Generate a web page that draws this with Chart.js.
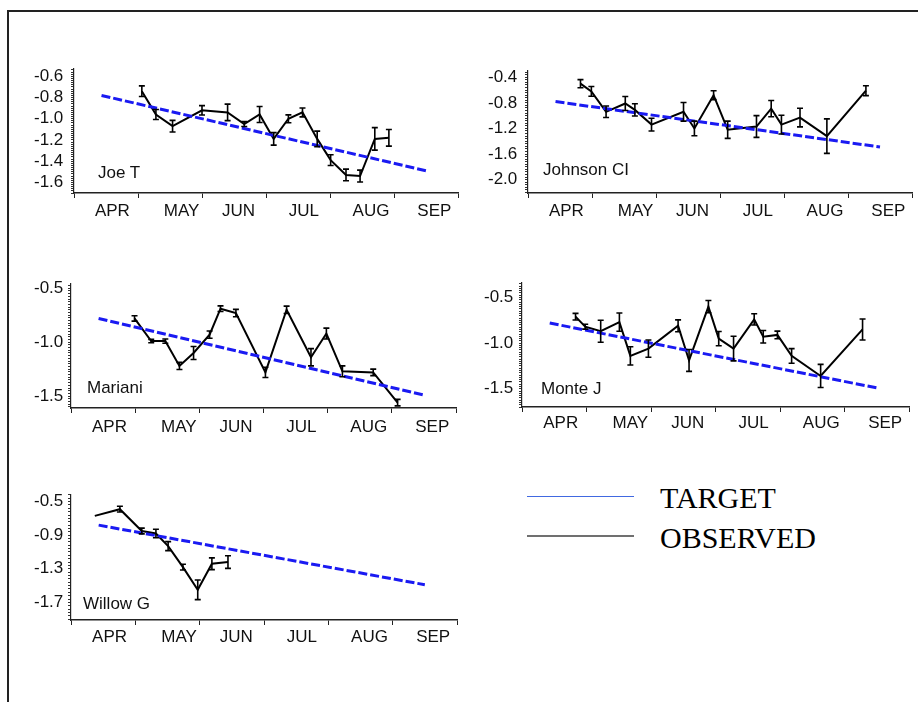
<!DOCTYPE html>
<html>
<head>
<meta charset="utf-8">
<script src="https://cdn.jsdelivr.net/npm/chart.js@4.4.0/dist/chart.umd.min.js"></script>
<style>
  body { margin: 0; background: #fff; width: 918px; height: 702px; overflow: hidden; position: relative; font-family: "Liberation Sans", Arial, sans-serif; }
  .frame { position: absolute; left: 7px; top: 10px; width: 960px; height: 760px; border-left: 2px solid #222; border-top: 2px solid #222; }
  .panel { position: absolute; }
  .name { position: absolute; font-size: 17px; line-height: 17px; color: #111; white-space: nowrap; }
  .legline { position: absolute; left: 527px; width: 107px; height: 0; }
  .legtext { position: absolute; left: 660px; font-family: "Liberation Serif", "Times New Roman", serif; font-size: 30px; line-height: 30px; color: #000; }
</style>
</head>
<body>
<div class="frame"></div>

<div class="legline" style="top:496px; border-top:1px solid #4169e1;"></div>
<div class="legtext" style="top:483px;">TARGET</div>
<div class="legline" style="top:535px; border-top:2px solid #707070;"></div>
<div class="legtext" style="top:523px;">OBSERVED</div>

<script>
// x values are months after 1 April (0 = APR 1, 6 = OCT 1)
const MONTHS = ["APR", "MAY", "JUN", "JUL", "AUG", "SEP"];
const monthLabelAt = [0.6, 1.68, 2.57, 3.59, 4.64, 5.63];
const monthStarts = [0, 1, 2, 3, 4, 5, 6];

const targetX = [0.43, 5.5];
const targetY = [-0.78, -1.49];

const joeX = [1.06, 1.28, 1.54, 2.0, 2.4, 2.66, 2.9, 3.12, 3.35, 3.57, 3.8, 4.01, 4.25, 4.47, 4.7, 4.92];
const joeY = [-0.74, -0.96, -1.07, -0.92, -0.94, -1.05, -0.96, -1.19, -1.0, -0.94, -1.19, -1.39, -1.53, -1.54, -1.19, -1.18];
const joeErr = [0.05, 0.047, 0.055, 0.044, 0.078, 0.023, 0.075, 0.059, 0.037, 0.042, 0.073, 0.051, 0.055, 0.056, 0.106, 0.078];

const johnsonX = [0.82, 0.99, 1.22, 1.52, 1.67, 1.93, 2.43, 2.6, 2.9, 3.12, 3.57, 3.8, 3.96, 4.25, 4.67, 5.28];
const johnsonY = [-0.5, -0.62, -0.94, -0.81, -0.91, -1.14, -0.94, -1.2, -0.68, -1.22, -1.17, -0.89, -1.14, -1.03, -1.32, -0.61];
const johnsonErr = [0.064, 0.077, 0.09, 0.11, 0.095, 0.1, 0.146, 0.115, 0.069, 0.135, 0.17, 0.128, 0.146, 0.146, 0.27, 0.077];

const marianiX = [0.99, 1.25, 1.47, 1.69, 1.91, 2.16, 2.33, 2.57, 3.03, 3.36, 3.74, 3.98, 4.23, 4.71, 5.09];
const marianiY = [-0.78, -0.99, -0.99, -1.22, -1.1, -0.93, -0.69, -0.73, -1.28, -0.7, -1.14, -0.92, -1.27, -1.28, -1.56];
const marianiErr = [0.025, 0.016, 0.02, 0.033, 0.06, 0.034, 0.026, 0.034, 0.047, 0.034, 0.08, 0.05, 0.05, 0.03, 0.03];

const monteX = [0.83, 0.98, 1.22, 1.51, 1.68, 1.96, 2.42, 2.59, 2.89, 3.05, 3.28, 3.6, 3.74, 3.96, 4.18, 4.63, 5.28];
const monteY = [-0.71, -0.82, -0.87, -0.77, -1.14, -1.06, -0.81, -1.19, -0.6, -0.95, -1.06, -0.74, -0.93, -0.91, -1.14, -1.36, -0.85];
const monteErr = [0.036, 0.027, 0.12, 0.1, 0.1, 0.095, 0.065, 0.12, 0.067, 0.078, 0.135, 0.062, 0.069, 0.042, 0.08, 0.127, 0.115];

const willowX = [0.37, 0.76, 1.1, 1.32, 1.51, 1.74, 1.97, 2.19, 2.44];
const willowY = [-0.67, -0.59, -0.85, -0.88, -1.03, -1.28, -1.55, -1.24, -1.22];
const willowErr = [0, 0.034, 0.034, 0.05, 0.054, 0.034, 0.117, 0.07, 0.075];

const panels = [
  { name: "Joe T", x: joeX, y: joeY, err: joeErr, yMin: -1.70, yMax: -0.53, major: -0.6, step: 0.2, minor: 0.02,
    box: { l: 74, r: 458, t: 65, b: 193 }, gap: 7.7, xPad: 3, label: { x: 98, y: 164 } },
  { name: "Johnson CI", x: johnsonX, y: johnsonY, err: johnsonErr, yMin: -2.21, yMax: -0.30, major: -0.4, step: 0.4, minor: 0.04,
    box: { l: 528, r: 912, t: 67, b: 193 }, gap: 7.7, xPad: 3, label: { x: 543, y: 161 } },
  { name: "Mariani", x: marianiX, y: marianiY, err: marianiErr, yMin: -1.61, yMax: -0.46, major: -0.5, step: 0.5, minor: 0.025,
    box: { l: 71, r: 456, t: 283, b: 408 }, gap: 4.7, xPad: 4, label: { x: 87, y: 379 } },
  { name: "Monte J", x: monteX, y: monteY, err: monteErr, yMin: -1.70, yMax: -0.34, major: -0.5, step: 0.5, minor: 0.025,
    box: { l: 522, r: 909, t: 281, b: 407 }, gap: 5.7, xPad: 1, label: { x: 541, y: 380 } },
  { name: "Willow G", x: willowX, y: willowY, err: willowErr, yMin: -1.91, yMax: -0.42, major: -0.5, step: 0.4, minor: 0.04,
    box: { l: 71, r: 457, t: 494, b: 620 }, gap: 4.7, xPad: 2, label: { x: 83, y: 595 } },
];

const FONT = { family: "'Liberation Sans', Arial, sans-serif", size: 17 };

// vertical error bars with short caps, drawn through the y scale
const errorBars = {
    id: "errorBars",
    afterDatasetsDraw(chart) {
        const ds = chart.data.datasets[0];
        const meta = chart.getDatasetMeta(0);
        const ys = chart.scales.y;
        const ctx = chart.ctx;
        ctx.save();
        ctx.strokeStyle = "#000";
        ctx.lineWidth = 1.6;
        ds.data.forEach((pt, i) => {
            const e = ds.errors[i];
            if (!e) return;
            const x = meta.data[i].x;
            const top = ys.getPixelForValue(pt.y + e);
            const bot = ys.getPixelForValue(pt.y - e);
            ctx.beginPath();
            ctx.moveTo(x, top); ctx.lineTo(x, bot);
            ctx.moveTo(x - 3, top); ctx.lineTo(x + 3, top);
            ctx.moveTo(x - 3, bot); ctx.lineTo(x + 3, bot);
            ctx.stroke();
        });
        ctx.restore();
    },
};

function yTicks(p) {
    const out = [];
    const kMin = Math.ceil((p.yMin - p.major) / p.minor - 1e-6);
    const kMax = Math.floor((p.yMax - p.major) / p.minor + 1e-6);
    for (let k = kMin; k <= kMax; k++) {
        out.push({ value: Math.round((p.major + k * p.minor) * 10000) / 10000 });
    }
    return out;
}

function isMajor(v, p) {
    const r = (v - p.major) / p.step;
    return Math.abs(r - Math.round(r)) < 1e-6;
}

// month boundaries carry the tick marks, the month names sit inside each month
function xTicks() {
    const t = monthStarts.map((v) => ({ value: v }));
    monthLabelAt.forEach((v) => t.push({ value: v }));
    return t.sort((a, b) => a.value - b.value);
}

function monthName(v) {
    const i = monthLabelAt.indexOf(v);
    return i >= 0 ? MONTHS[i] : "";
}

const PAD_TOP = 14, PAD_RIGHT = 12, AXIS_W = 60, AXIS_H = 36;

panels.forEach((p) => {
    const wrap = document.createElement("div");
    wrap.className = "panel";
    const w = p.box.r - p.box.l + AXIS_W + PAD_RIGHT;
    const h = p.box.b - p.box.t + PAD_TOP + AXIS_H;
    wrap.style.left = (p.box.l - AXIS_W) + "px";
    wrap.style.top = (p.box.t - PAD_TOP) + "px";
    const cv = document.createElement("canvas");
    cv.width = w;
    cv.height = h;
    wrap.appendChild(cv);
    document.body.appendChild(wrap);

    const name = document.createElement("div");
    name.className = "name";
    name.textContent = p.name;
    name.style.left = p.label.x + "px";
    name.style.top = p.label.y + "px";
    document.body.appendChild(name);

    new Chart(cv, {
        type: "line",
        data: {
            datasets: [
                {
                    label: "OBSERVED",
                    data: p.x.map((x, i) => ({ x: x, y: p.y[i] })),
                    errors: p.err,
                    borderColor: "#000",
                    borderWidth: 2,
                    pointRadius: 0,
                    tension: 0,
                    order: 1,
                },
                {
                    label: "TARGET",
                    data: targetX.map((x, i) => ({ x: x, y: targetY[i] })),
                    borderColor: "#1a1af2",
                    borderWidth: 3,
                    borderDash: [9, 3],
                    pointRadius: 0,
                    order: 0,
                },
            ],
        },
        options: {
            responsive: false,
            animation: false,
            layout: { padding: { top: PAD_TOP, right: PAD_RIGHT, left: 0, bottom: 0 } },
            plugins: { legend: { display: false }, tooltip: { enabled: false } },
            scales: {
                x: {
                    type: "linear",
                    min: 0,
                    max: 6,
                    afterBuildTicks: (s) => { s.ticks = xTicks(); },
                    afterFit: (s) => { s.height = AXIS_H; },
                    ticks: { autoSkip: false, maxRotation: 0, color: "#111", font: FONT, padding: p.xPad,
                        callback: (v) => monthName(v) },
                    grid: { drawOnChartArea: false, drawTicks: true, tickLength: 5, lineWidth: 1,
                        color: (c) => (c.tick && monthStarts.includes(c.tick.value) ? "#222" : "rgba(0,0,0,0)") },
                    border: { display: true, color: "#222", width: 1.5 },
                },
                y: {
                    type: "linear",
                    min: p.yMin,
                    max: p.yMax,
                    afterBuildTicks: (s) => { s.ticks = yTicks(p); },
                    afterFit: (s) => { s.width = AXIS_W; },
                    ticks: { autoSkip: false, color: "#111", font: FONT, padding: p.gap,
                        callback: (v) => (isMajor(v, p) ? v.toFixed(1) : "") },
                    grid: { drawOnChartArea: false, drawTicks: true, tickLength: 3, color: "#333", lineWidth: 1 },
                    border: { display: true, color: "#222", width: 1.2 },
                },
            },
        },
        plugins: [errorBars],
    });
});
</script>
</body>
</html>
